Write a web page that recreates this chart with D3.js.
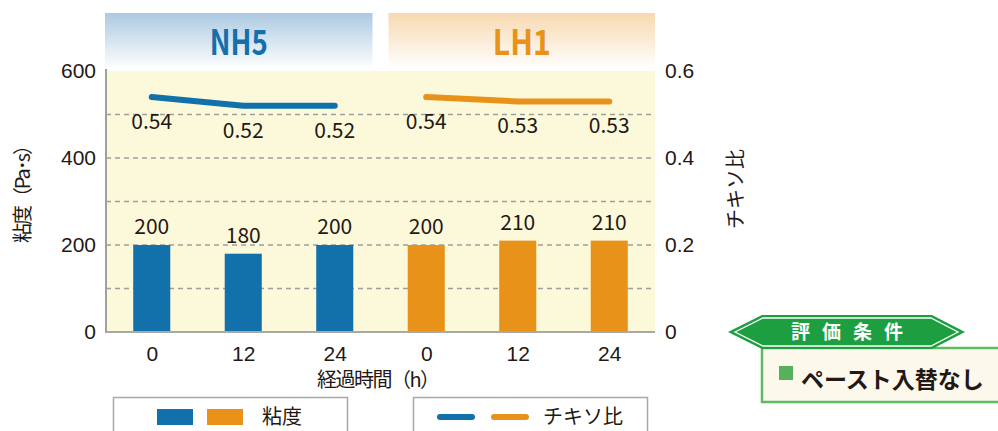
<!DOCTYPE html>
<html><head><meta charset="utf-8">
<script src="https://cdn.jsdelivr.net/npm/d3@7"></script>
<style>
html,body{margin:0;padding:0;background:#fff;}
svg{display:block;font-family:"Noto Sans CJK JP","Noto Sans",sans-serif;}
</style></head>
<body><svg id="c" width="998" height="431"></svg>
<script>
const groups = ["NH5", "LH1"];
const hours = ["0", "12", "24"];
const viscosity = { NH5: [200, 180, 200], LH1: [200, 210, 210] };
const thixo = { NH5: [0.54, 0.52, 0.52], LH1: [0.54, 0.53, 0.53] };
const leftTicks = [0, 200, 400, 600];
const rightTicks = [0, 0.2, 0.4, 0.6];
const gridValues = [100, 200, 300, 400, 500];
const colors = { NH5: "#1270ab", LH1: "#e8921a" };
const leftTitle = "粘度（Pa･s）";
const rightTitle = "チキソ比";
const xTitle = "経過時間（h）";
const legendBar = "粘度";
const legendLine = "チキソ比";
const condTitle = "評価条件";
const condText = "ペースト入替なし";

const svg = d3.select("#c");
const txt = "#231815";
const L = 106, R = 655, T = 71, B = 332;

const keys = [];
groups.forEach(g => hours.forEach((h, i) => keys.push({ g, h, i, key: g + "-" + h })));

const x = d3.scalePoint().domain(keys.map(d => d.key)).range([L, R]).padding(0.5);
const step = x.step();
const barW = step * 0.405;
const yL = d3.scaleLinear().domain([0, 600]).range([B, T]);
const yR = d3.scaleLinear().domain([0, 0.6]).range([B, T]);

// gradients
const defs = svg.append("defs");
const gradCols = { NH5: "#acc9e2", LH1: "#f7d9b0" };
groups.forEach(g => {
  const lg = defs.append("linearGradient").attr("id", "grad" + g).attr("x1", 0).attr("y1", 0).attr("x2", 0).attr("y2", 1);
  lg.append("stop").attr("offset", "0%").attr("stop-color", gradCols[g]);
  lg.append("stop").attr("offset", "100%").attr("stop-color", "#ffffff");
});

// header boxes
groups.forEach((g, gi) => {
  const x0 = x(g + "-" + hours[0]) - step / 2;
  const x1 = x(g + "-" + hours[hours.length - 1]) + step / 2;
  const bx0 = gi === 0 ? x0 - 1 : x0 + 8;
  const bx1 = gi === 0 ? x1 - 8 : x1;
  svg.append("rect").attr("x", bx0).attr("y", 13).attr("width", bx1 - bx0).attr("height", 56)
    .attr("fill", "url(#grad" + g + ")");
  svg.append("text").attr("x", (bx0 + bx1) / 2).attr("y", 55).attr("text-anchor", "middle")
    .attr("font-size", 35).attr("font-weight", "bold").attr("fill", colors[g])
    .attr("textLength", 58).attr("lengthAdjust", "spacingAndGlyphs")
    .text(g);
});

// plot background
svg.append("rect").attr("x", L).attr("y", T).attr("width", R - L).attr("height", B - T).attr("fill", "#fcf8da");

// grid
svg.append("g").selectAll("line").data(gridValues).join("line")
  .attr("x1", L).attr("x2", R).attr("y1", d => yL(d)).attr("y2", d => yL(d))
  .attr("stroke", "#9e9e9e").attr("stroke-width", 1.5).attr("stroke-dasharray", "5,4");

// bars
svg.append("g").selectAll("rect").data(keys).join("rect")
  .attr("x", d => x(d.key) - barW / 2).attr("width", barW)
  .attr("y", d => yL(viscosity[d.g][d.i])).attr("height", d => B - yL(viscosity[d.g][d.i]))
  .attr("fill", d => colors[d.g]);

svg.append("g").selectAll("text").data(keys).join("text")
  .attr("x", d => x(d.key)).attr("y", d => yL(viscosity[d.g][d.i]) - 11)
  .attr("text-anchor", "middle").attr("font-size", 21).attr("fill", txt)
  .text(d => viscosity[d.g][d.i]);

// lines
const line = d3.line().x(d => x(d.key)).y(d => yR(thixo[d.g][d.i]));
groups.forEach(g => {
  const pts = keys.filter(k => k.g === g);
  svg.append("path").datum(pts).attr("d", line).attr("fill", "none")
    .attr("stroke", colors[g]).attr("stroke-width", 6).attr("stroke-linecap", "round").attr("stroke-linejoin", "round");
});
svg.append("g").selectAll("text").data(keys).join("text")
  .attr("x", d => x(d.key)).attr("y", d => yR(thixo[d.g][d.i]) + 32)
  .attr("text-anchor", "middle").attr("font-size", 21).attr("fill", txt)
  .text(d => thixo[d.g][d.i].toFixed(2));

// axis lines
svg.append("line").attr("x1", L).attr("x2", L).attr("y1", T - 2).attr("y2", B + 1).attr("stroke", "#a0a0a0").attr("stroke-width", 2);
svg.append("line").attr("x1", L).attr("x2", R).attr("y1", B).attr("y2", B).attr("stroke", "#a8a8a8").attr("stroke-width", 2);

// axes
const ax = svg.append("g").attr("transform", `translate(0,${B})`)
  .call(d3.axisBottom(x).tickSize(0).tickPadding(14).tickFormat(k => k.split("-")[1]));
ax.select(".domain").remove();
ax.selectAll("text").attr("font-size", 21).attr("fill", txt).attr("font-family", null);

const al = svg.append("g").attr("transform", `translate(${L},0)`)
  .call(d3.axisLeft(yL).tickValues(leftTicks).tickSize(0).tickPadding(10));
al.select(".domain").remove();
al.selectAll("text").attr("font-size", 21).attr("fill", txt).attr("font-family", null);

const ar = svg.append("g").attr("transform", `translate(${R},0)`)
  .call(d3.axisRight(yR).tickValues(rightTicks).tickSize(0).tickPadding(10).tickFormat(d => d === 0 ? "0" : d3.format(".1f")(d)));
ar.select(".domain").remove();
ar.selectAll("text").attr("font-size", 21).attr("fill", txt).attr("font-family", null);

// titles
svg.append("text").attr("transform", "translate(30,189) rotate(-90)").attr("text-anchor", "middle")
  .attr("font-size", 20).attr("fill", txt).attr("textLength", 108).attr("lengthAdjust", "spacing").text(leftTitle);
svg.append("text").attr("transform", "translate(743,189) rotate(-90)").attr("text-anchor", "middle")
  .attr("font-size", 20).attr("fill", txt).text(rightTitle);
svg.append("text").attr("x", (L + R) / 2 - 2).attr("y", 387).attr("text-anchor", "middle")
  .attr("font-size", 20).attr("fill", txt).attr("textLength", 123).attr("lengthAdjust", "spacing").text(xTitle);

// legends
const lg1 = svg.append("g");
lg1.append("rect").attr("x", 113.5).attr("y", 397.5).attr("width", 234).attr("height", 50).attr("fill", "#fff").attr("stroke", "#a8a8a8").attr("stroke-width", 1.5);
groups.forEach((g, i) => {
  lg1.append("rect").attr("x", 157 + i * 50).attr("y", 409).attr("width", 36).attr("height", 16).attr("fill", colors[g]);
});
lg1.append("text").attr("x", 262).attr("y", 424).attr("font-size", 20).attr("fill", txt).text(legendBar);

const lg2 = svg.append("g");
lg2.append("rect").attr("x", 413.5).attr("y", 397.5).attr("width", 234).attr("height", 50).attr("fill", "#fff").attr("stroke", "#a8a8a8").attr("stroke-width", 1.5);
groups.forEach((g, i) => {
  lg2.append("line").attr("x1", 440 + i * 54).attr("x2", 472 + i * 54).attr("y1", 417).attr("y2", 417)
    .attr("stroke", colors[g]).attr("stroke-width", 6).attr("stroke-linecap", "round");
});
lg2.append("text").attr("x", 543).attr("y", 424).attr("font-size", 20).attr("fill", txt).text(legendLine);

// evaluation conditions
const cg = svg.append("g");
cg.append("rect").attr("x", 762).attr("y", 348).attr("width", 240).attr("height", 54)
  .attr("fill", "#fcf9ec").attr("stroke", "#5fba62").attr("stroke-width", 2.5);
cg.append("polygon").attr("points", "728,332 762,315 932,315 965,332 932,349 762,349").attr("fill", "#1d9e40");
cg.append("polygon").attr("points", "735,332 763,318 931,318 958,332 931,346 763,346")
  .attr("fill", "none").attr("stroke", "#ffffff").attr("stroke-width", 1.3);
cg.append("text").attr("x", 853).attr("y", 339).attr("text-anchor", "middle").attr("font-size", 19)
  .attr("font-weight", "bold").attr("fill", "#fff").attr("letter-spacing", "12px").text(condTitle);
cg.append("rect").attr("x", 779).attr("y", 366).attr("width", 14).attr("height", 14).attr("fill", "#57b05b");
cg.append("text").attr("x", 801).attr("y", 388).attr("font-size", 23).attr("font-weight", "bold").attr("fill", txt).text(condText);
</script></body></html>
